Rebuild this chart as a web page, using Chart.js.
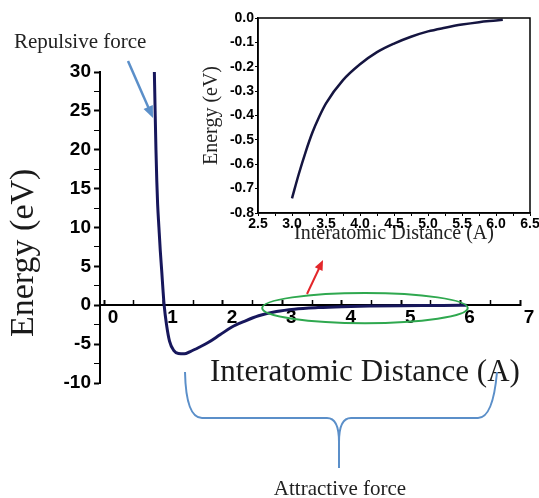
<!DOCTYPE html>
<html>
<head>
<meta charset="utf-8">
<script src="https://cdn.jsdelivr.net/npm/chart.js@4.4.0/dist/chart.umd.min.js"></script>
<style>
body { margin: 0; background: #fff; }
#wrap { position: relative; width: 539px; height: 498px; overflow: hidden; background: #fff; }
#main { position: absolute; left: 0; top: 0; }
#inset { position: absolute; left: 190px; top: 0; }
</style>
</head>
<body>
<div id="wrap">
  <canvas id="main" width="539" height="498"></canvas>
  <canvas id="inset" width="360" height="260"></canvas>
</div>
<script>
// big curve, values
const distance = [0.845, 0.858, 0.872, 0.886, 0.9, 0.922, 0.945, 0.97, 0.99, 1.01, 1.05, 1.1, 1.17, 1.25, 1.35, 1.45, 1.6, 1.75, 1.95, 2.15, 2.35, 2.6, 2.9, 3.2, 3.6, 4.0, 4.5, 5.0, 5.5, 6.0, 6.1];
const energy = [30, 25, 20, 16, 13, 10, 7, 4.3, 2, 0, -2.5, -4.6, -5.8, -6.2, -6.25, -5.95, -5.4, -4.8, -3.8, -2.8, -2.1, -1.35, -0.8, -0.5, -0.3, -0.18, -0.1, -0.05, -0.03, -0.01, -0.005];

// zoomed inset curve
const insetDistance = [3.0, 3.1, 3.2, 3.3, 3.4, 3.5, 3.75, 4.0, 4.25, 4.5, 4.75, 5.0, 5.25, 5.5, 5.75, 6.0, 6.1];
const insetEnergy = [-0.74, -0.64, -0.55, -0.47, -0.405, -0.35, -0.255, -0.19, -0.14, -0.105, -0.077, -0.055, -0.04, -0.027, -0.017, -0.01, -0.007];

const mainXTicks = ['0', '1', '2', '3', '4', '5', '6', '7'];
const mainYTicks = ['-10', '-5', '0', '5', '10', '15', '20', '25', '30'];
const insetXTicks = ['2.5', '3.0', '3.5', '4.0', '4.5', '5.0', '5.5', '6.0', '6.5'];
const insetYTicks = ['0.0', '-0.1', '-0.2', '-0.3', '-0.4', '-0.5', '-0.6', '-0.7', '-0.8'];

const sans = "'Liberation Sans', Arial, sans-serif";
const serif = "'Liberation Serif', 'Times New Roman', serif";

const toPoints = (xs, ys) => xs.map((x, i) => ({ x: x, y: ys[i] }));

function arrow(ctx, x1, y1, x2, y2, color, w, head) {
    const a = Math.atan2(y2 - y1, x2 - x1);
    ctx.strokeStyle = color;
    ctx.fillStyle = color;
    ctx.lineWidth = w;
    ctx.beginPath();
    ctx.moveTo(x1, y1);
    ctx.lineTo(x2 - head * 0.8 * Math.cos(a), y2 - head * 0.8 * Math.sin(a));
    ctx.stroke();
    ctx.beginPath();
    ctx.moveTo(x2, y2);
    ctx.lineTo(x2 - head * Math.cos(a - 0.4), y2 - head * Math.sin(a - 0.4));
    ctx.lineTo(x2 - head * Math.cos(a + 0.4), y2 - head * Math.sin(a + 0.4));
    ctx.closePath();
    ctx.fill();
}

// titles + the hand drawn notes on top of the big plot
const notes = {
    id: 'notes',
    afterDraw(chart) {
        const ctx = chart.ctx;
        const xs = chart.scales.x;
        const ys = chart.scales.y;
        ctx.save();

        ctx.fillStyle = '#1a1a1a';
        ctx.textAlign = 'left';
        ctx.textBaseline = 'alphabetic';
        ctx.font = '31px ' + serif;
        ctx.fillText('Interatomic Distance (A)', 210, 381);

        ctx.save();
        ctx.translate(33, 337);
        ctx.rotate(-Math.PI / 2);
        ctx.font = '34px ' + serif;
        ctx.fillText('Energy (eV)', 0, 0);
        ctx.restore();

        ctx.fillStyle = '#222';
        ctx.font = '21px ' + serif;
        ctx.fillText('Repulsive force', 14, 48);
        ctx.textAlign = 'center';
        ctx.fillText('Attractive force', 340, 495);

        arrow(ctx, 128, 61, 153, 118, '#5b8fc9', 2.5, 13);
        arrow(ctx, 307, 294, 323, 260, '#e3262a', 2, 11);

        // green ring round the tail of the curve
        const left = xs.getPixelForValue(2.66), right = xs.getPixelForValue(6.12);
        const top = ys.getPixelForValue(1.58), bottom = ys.getPixelForValue(-2.3);
        ctx.strokeStyle = '#2fa84f';
        ctx.lineWidth = 2;
        ctx.beginPath();
        ctx.ellipse((left + right) / 2, (top + bottom) / 2, (right - left) / 2, (bottom - top) / 2, 0, 0, Math.PI * 2);
        ctx.stroke();

        // brace under the axis
        ctx.strokeStyle = '#5b8fc9';
        ctx.lineWidth = 2;
        ctx.beginPath();
        ctx.moveTo(185, 372);
        ctx.quadraticCurveTo(186, 418, 202, 418);
        ctx.lineTo(327, 418);
        ctx.quadraticCurveTo(339, 418, 339, 442);
        ctx.lineTo(339, 468);
        ctx.moveTo(339, 442);
        ctx.quadraticCurveTo(339, 418, 351, 418);
        ctx.lineTo(478, 418);
        ctx.quadraticCurveTo(493, 418, 497, 372);
        ctx.stroke();

        ctx.restore();
    }
};

const frame = {
    id: 'frame',
    afterDraw(chart) {
        const a = chart.chartArea;
        const ctx = chart.ctx;
        ctx.save();
        ctx.strokeStyle = '#000';
        ctx.lineWidth = 1.5;
        ctx.strokeRect(a.left, a.top, a.right - a.left, a.bottom - a.top);
        ctx.restore();
    }
};

let mainChart = new Chart(document.getElementById('main'), {
    type: 'line',
    data: {
        datasets: [{
            data: toPoints(distance, energy),
            borderColor: '#17175c',
            borderWidth: 3,
            pointRadius: 0,
            cubicInterpolationMode: 'monotone',
            fill: false
        }]
    },
    options: {
        responsive: false,
        animation: false,
        layout: { padding: { left: 0, right: 19, top: 72, bottom: 115 } },
        plugins: { legend: { display: false }, tooltip: { enabled: false } },
        scales: {
            x: {
                type: 'linear',
                position: { y: 0 },
                min: -0.07,
                max: 7,
                afterFit: (s) => { s.height = 0; },
                border: { color: '#000', width: 2 },
                grid: {
                    drawOnChartArea: false,
                    tickLength: -6,
                    color: '#000',
                    tickWidth: (c) => Number.isInteger(c.tick.value) ? 2 : 1.5
                },
                ticks: {
                    stepSize: 0.5,
                    includeBounds: false,
                    autoSkip: false,
                    maxRotation: 0,
                    padding: 7,
                    labelOffset: 9,
                    color: '#000',
                    font: { family: sans, size: 19, weight: 'bold' },
                    callback: (v) => mainXTicks.includes(String(v)) ? String(v) : ''
                }
            },
            y: {
                type: 'linear',
                min: -10,
                max: 30,
                afterFit: (s) => { s.width = 100; },
                border: { color: '#000', width: 2 },
                grid: {
                    drawOnChartArea: false,
                    tickLength: 6,
                    color: '#000',
                    tickWidth: (c) => c.tick.value % 5 === 0 ? 2 : 1
                },
                ticks: {
                    stepSize: 2.5,
                    autoSkip: false,
                    padding: 3,
                    color: '#000',
                    font: { family: sans, size: 19, weight: 'bold' },
                    callback: (v) => mainYTicks.includes(String(v)) ? String(v) : ''
                }
            }
        }
    },
    plugins: [notes]
});

let insetChart = new Chart(document.getElementById('inset'), {
    type: 'line',
    data: {
        datasets: [{
            data: toPoints(insetDistance, insetEnergy),
            borderColor: '#151540',
            borderWidth: 2.5,
            pointRadius: 0,
            cubicInterpolationMode: 'monotone',
            fill: false
        }]
    },
    options: {
        responsive: false,
        animation: false,
        layout: { padding: { left: 0, right: 20, top: 18, bottom: 0 } },
        plugins: { legend: { display: false }, tooltip: { enabled: false } },
        scales: {
            x: {
                type: 'linear',
                min: 2.5,
                max: 6.5,
                afterFit: (s) => { s.height = 47; },
                border: { color: '#000', width: 1.5 },
                grid: { drawOnChartArea: false, tickLength: 3, color: '#000' },
                ticks: {
                    stepSize: 0.25,
                    autoSkip: false,
                    maxRotation: 0,
                    padding: 0,
                    color: '#000',
                    font: { family: sans, size: 14, weight: 'bold' },
                    callback: (v) => insetXTicks.includes(v.toFixed(1)) && Number.isInteger(v * 2) ? v.toFixed(1) : ''
                },
                title: {
                    display: true,
                    text: 'Interatomic Distance (A)',
                    color: '#222',
                    font: { family: serif, size: 20 },
                    padding: { top: 0, bottom: 14 }
                }
            },
            y: {
                type: 'linear',
                min: -0.8,
                max: 0,
                afterFit: (s) => { s.width = 68; },
                border: { color: '#000', width: 1.5 },
                grid: { drawOnChartArea: false, tickLength: 3, color: '#000' },
                ticks: {
                    stepSize: 0.1,
                    autoSkip: false,
                    padding: 1,
                    color: '#000',
                    font: { family: sans, size: 14, weight: 'bold' },
                    callback: (v) => insetYTicks.includes(v.toFixed(1)) ? v.toFixed(1) : ''
                },
                title: {
                    display: true,
                    text: 'Energy (eV)',
                    color: '#222',
                    font: { family: serif, size: 20 },
                    padding: { top: 10, bottom: 0 }
                }
            }
        }
    },
    plugins: [frame]
});
</script>
</body>
</html>
